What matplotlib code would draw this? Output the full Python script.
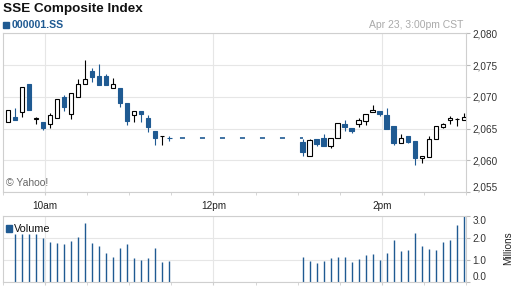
import matplotlib
matplotlib.use("Agg")
import matplotlib.pyplot as plt
from matplotlib.patches import Rectangle
from matplotlib.ticker import FuncFormatter, FixedLocator
import numpy as np

plt.rcParams['font.family'] = ['Liberation Sans', 'DejaVu Sans']
plt.rcParams['lines.scale_dashes'] = False

BLUE = "#1f5a92"
GRID = "#e6e6e6"
EDGE = "#cfcfcf"

# ==== data (5-minute candles) ====
# morning session 9:30 - 11:30
am_open = [2066.0, 2066.8, 2067.6, 2072.0, 2066.55, 2066.0, 2065.8, 2066.6,
           2069.9, 2067.3, 2069.9, 2072.1, 2074.1, 2073.3, 2073.3, 2071.35,
           2071.45, 2069.0, 2067.1, 2067.8, 2066.7, 2064.6, 2063.78, 2063.55]
am_high = [2068.0, 2068.3, 2071.5, 2072.0, 2066.8, 2066.0, 2067.5, 2069.6,
           2070.3, 2070.56, 2072.76, 2075.8, 2074.5, 2075.2, 2073.6, 2072.9,
           2071.45, 2069.0, 2067.8, 2067.8, 2067.1, 2064.6, 2063.9, 2063.9]
am_low = [2066.0, 2066.4, 2066.9, 2067.9, 2065.7, 2064.8, 2065.15, 2066.6,
          2067.8, 2066.57, 2069.9, 2072.1, 2072.4, 2071.8, 2071.8, 2071.35,
          2068.4, 2065.6, 2066.1, 2066.1, 2064.5, 2062.4, 2062.4, 2063.0]
am_close = [2068.0, 2066.4, 2071.5, 2067.9, 2066.6, 2065.05, 2067.15, 2069.6,
            2068.45, 2070.56, 2072.0, 2072.8, 2073.2, 2071.8, 2071.8, 2072.1,
            2069.0, 2066.2, 2067.8, 2067.25, 2065.2, 2063.6, 2063.82, 2063.5]
am_volume = [np.nan, 2.16, 2.19, 2.16, 2.16, 2.01, 1.81, 1.75, 1.70, 1.85, 2.02,
             2.68, 1.75, 1.65, 1.33, 1.15, 1.56, 1.70, 1.10, 1.01, 1.10,
             1.52, 0.92, 0.96]

# afternoon session 13:00 - 15:00
pm_open = [2062.9, 2060.75, 2063.3, 2063.55, 2062.3, 2063.47, 2065.75, 2065.1,
           2065.7, 2066.15, 2067.57, 2067.7, 2067.15, 2065.4, 2062.7, 2063.8,
           2063.05, 2060.33, 2060.6, 2063.3, 2065.3, 2066.3, 2066.48, 2066.3]
pm_high = [2063.3, 2063.3, 2063.3, 2064.1, 2063.55, 2065.84, 2066.3, 2065.1,
           2066.7, 2067.36, 2068.7, 2067.7, 2068.2, 2065.4, 2064.1, 2063.8,
           2063.05, 2060.7, 2063.8, 2065.4, 2065.9, 2067.0, 2066.7, 2067.4]
pm_low = [2060.75, 2060.75, 2062.3, 2062.3, 2062.0, 2063.47, 2064.6, 2064.35,
          2065.25, 2065.6, 2067.57, 2067.0, 2064.9, 2062.4, 2062.7, 2062.7,
          2059.3, 2059.55, 2060.6, 2063.3, 2065.1, 2065.8, 2065.4, 2066.3]
pm_close = [2061.3, 2063.2, 2062.65, 2062.3, 2063.55, 2065.84, 2065.2, 2064.65,
            2066.3, 2067.36, 2067.93, 2067.26, 2064.9, 2062.7, 2063.55, 2062.95,
            2060.33, 2060.7, 2063.3, 2065.4, 2065.7, 2066.67, 2066.52, 2066.83]
pm_volume = [1.12, 0.93, 0.84, 0.93, 1.07, 1.15, 1.15, 0.89, 1.03, 1.21, 1.26,
             0.98, 1.30, 1.90, 1.39, 1.44, 2.22, 1.61, 1.49, 1.44, 1.81, 1.90,
             2.57, 3.00]

x_ticks = [30, 150, 270]          # minutes after 9:30
x_labels = ["10am", "12pm", "2pm"]


def session_x(start_min, n):
    # candle placed slightly after the start of its 5-minute slot
    return start_min + 5 * np.arange(n) + 3.5


def draw_candles(ax, x, o, h, l, c):
    o, h, l, c = map(np.asarray, (o, h, l, c))
    up = c >= o
    for mask, face, edge in ((up, "white", "black"), (~up, BLUE, BLUE)):
        ax.vlines(x[mask], l[mask], h[mask], color=edge, lw=0.8, zorder=3)
        ax.bar(x[mask], np.abs(c - o)[mask], bottom=np.minimum(o, c)[mask],
               width=3.2, facecolor=face, edgecolor=edge, lw=0.8, zorder=4)


def draw_chart():
    fig = plt.figure(figsize=(5.12, 2.88), dpi=100)
    ax = fig.add_axes([3 / 512, 1 - 192.2 / 288, 463 / 512, 158.9 / 288])
    axv = fig.add_axes([3 / 512, 1 - 281.7 / 288, 463 / 512, 65.7 / 288])

    xa = session_x(0, len(am_open))
    xp = session_x(210, len(pm_open))

    draw_candles(ax, xa, am_open, am_high, am_low, am_close)
    draw_candles(ax, xp, pm_open, pm_high, pm_low, pm_close)
    # lunch break: last morning price, dashed
    ax.plot([xa[-1], xp[0]], [am_close[-1], am_close[-1]], color=BLUE, lw=1.2,
            ls=(6.5, (3.6, 10.8)), zorder=2)

    axv.vlines(xa, 0, am_volume, color=BLUE, lw=1.0)
    axv.vlines(xp, 0, pm_volume, color=BLUE, lw=1.0)

    for a in (ax, axv):
        a.set_xlim(0, 330)
        a.xaxis.set_major_locator(FixedLocator(x_ticks))
        a.xaxis.set_minor_locator(FixedLocator(range(0, 331, 30)))
        a.yaxis.tick_right()
        a.grid(True, which="major", color=GRID, lw=0.8, zorder=0)
        a.set_axisbelow(True)
        for s in a.spines.values():
            s.set_color(EDGE)
            s.set_linewidth(0.8)
        a.tick_params(axis="x", which="both", length=2, color=EDGE)
        a.tick_params(axis="y", length=3, color="#bbbbbb", pad=1.5,
                      labelsize=7.2, labelcolor="#333333")

    ax.set_ylim(2055, 2080)
    ax.set_yticks(range(2055, 2081, 5))
    ax.yaxis.set_major_formatter(FuncFormatter(lambda v, p: f"{v:,.0f}"))
    ax.set_xticklabels(x_labels)
    ax.tick_params(axis="x", which="major", labelsize=7.2, pad=4,
                   labelcolor="#222222")
    ax.get_yticklabels()[0].set_verticalalignment("bottom")

    axv.set_ylim(0, 3)
    axv.set_yticks([0, 1, 2, 3])
    axv.yaxis.set_major_formatter(FuncFormatter(lambda v, p: f"{v:.1f}"))
    axv.set_xticklabels([])
    labs = axv.get_yticklabels()
    labs[0].set_verticalalignment("bottom")
    labs[-1].set_verticalalignment("top")

    def px(x, y):
        return x / 512, 1 - y / 288

    fig.text(*px(3, 11.7), "SSE Composite Index", fontsize=9.7,
             fontweight="bold", color="#111111", va="baseline")
    fig.patches.append(Rectangle(px(2.7, 28.3), 6.5 / 512, 6.5 / 288,
                                 transform=fig.transFigure, color=BLUE))
    fig.text(*px(12, 28.3), "000001.SS", fontsize=7.6, fontweight="bold",
             color=BLUE, va="baseline")
    fig.text(*px(463, 27.5), "Apr 23, 3:00pm CST", fontsize=7.5,
             color="#aaaaaa", ha="right", va="baseline")
    fig.text(*px(6, 183), "\u00a9 Yahoo!", fontsize=7.5, color="#666666",
             va="center")
    fig.patches.append(Rectangle(px(6, 231.5), 6 / 512, 6.5 / 288,
                                 transform=fig.transFigure, color=BLUE))
    fig.text(*px(13.5, 228.5), "Volume", fontsize=7.8, color="#111111",
             va="center")
    fig.text(*px(508, 248), "Millions", fontsize=7.2, color="#222222",
             rotation=90, ha="center", va="center")

    fig.savefig("out.png", dpi=100)


if __name__ == "__main__":
    draw_chart()
